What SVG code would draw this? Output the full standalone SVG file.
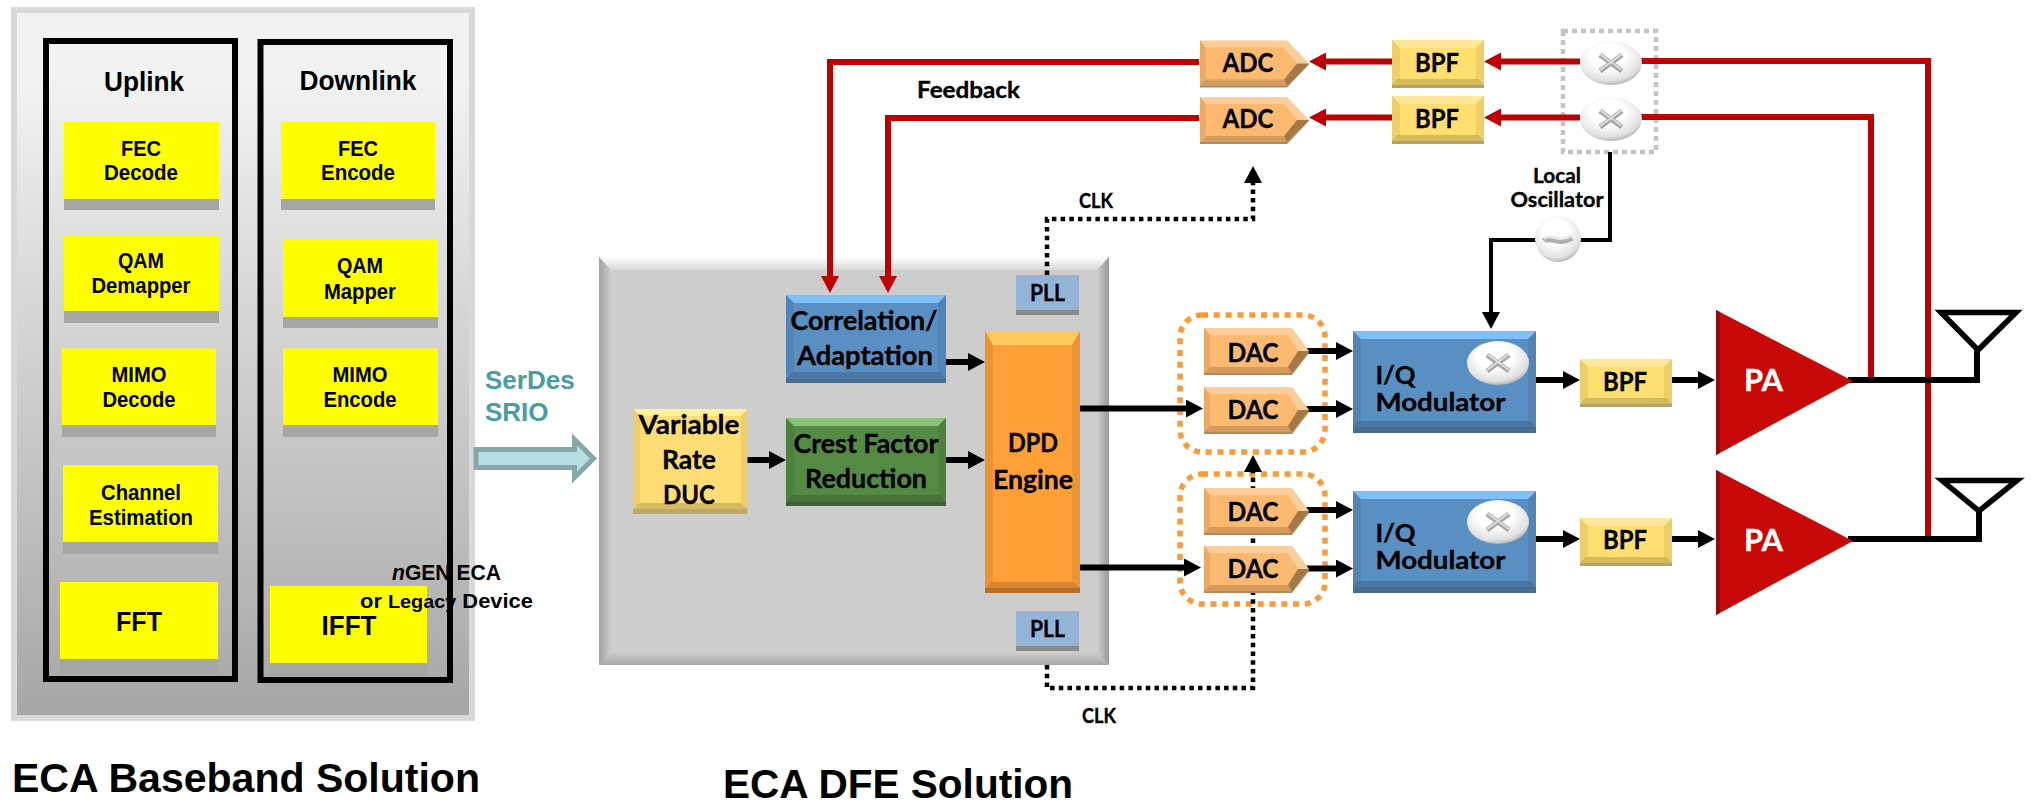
<svg xmlns="http://www.w3.org/2000/svg" width="2031" height="801" viewBox="0 0 2031 801">
<style>
.a{font-family:"Liberation Sans",Arial,sans-serif;font-weight:700;fill:#000;text-anchor:middle}
.c{font-family:Lato,"Liberation Sans",sans-serif;font-weight:700;fill:#000;text-anchor:middle;stroke:#000;stroke-width:.35}
.y{fill:#ffff00}.s{fill:#a6a6a6}
.fr{fill:none;stroke:#000;stroke-width:6}
.k{fill:none;stroke:#000;stroke-width:6}
.k4{fill:none;stroke:#000;stroke-width:4}
.r{fill:none;stroke:#c00000;stroke-width:6}
.d{fill:none;stroke:#000;stroke-width:4.5;stroke-dasharray:4.5 4.2}
.l{fill:#fff;fill-opacity:.3}.m{fill:#000;fill-opacity:.07}.b{fill:#000;fill-opacity:.16}
.ant{fill:none;stroke:#000;stroke-width:5.5}
</style>
<defs>
<linearGradient id="bg" x1="0" y1="0" x2="0" y2="1"><stop offset=".1" stop-color="#f2f2f2"/><stop offset="1" stop-color="#a6a6a6"/></linearGradient>
<radialGradient id="mix" cx=".45" cy=".35" r=".7"><stop offset=".4" stop-color="#ffffff"/><stop offset=".8" stop-color="#e0e0e0"/><stop offset="1" stop-color="#a0a0a0"/></radialGradient>
<linearGradient id="pl" x1="0" y1="0" x2="1" y2="0"><stop offset="0" stop-color="#a0a0a0"/><stop offset="1" stop-color="#cdcdcd"/></linearGradient>
<linearGradient id="pr" x1="0" y1="0" x2="1" y2="0"><stop offset="0" stop-color="#cdcdcd"/><stop offset="1" stop-color="#999"/></linearGradient>
<linearGradient id="pt" x1="0" y1="0" x2="0" y2="1"><stop offset="0" stop-color="#fff"/><stop offset="1" stop-color="#d8d8d8"/></linearGradient>
<linearGradient id="pb" x1="0" y1="0" x2="0" y2="1"><stop offset="0" stop-color="#cdcdcd"/><stop offset="1" stop-color="#a8a8a8"/></linearGradient>
<marker id="ab" markerUnits="userSpaceOnUse" markerWidth="18" markerHeight="18" refX="1" refY="9" orient="auto"><path d="M0 0L17 9L0 18Z" fill="#000"/></marker>
<marker id="ar" markerUnits="userSpaceOnUse" markerWidth="18" markerHeight="18" refX="1" refY="9" orient="auto"><path d="M0 0L17 9L0 18Z" fill="#c00000"/></marker>
<g id="bpf"><rect x="0" y="2" width="92" height="46" fill="#b5a26a"/><rect width="92" height="45" fill="#ffdf70"/><path class="l" d="M0 0H92L84 8H8Z"/><path class="b" d="M0 45H92L86 39H6Z"/><path class="m" d="M0 0L8 8V39L0 45ZM92 0L84 8V39L92 45Z"/></g>
<g id="dac"><path d="M0 2H88L105 25L88 47H0Z" fill="#b08a58"/><path d="M0 0H88L105 23L88 45H0Z" fill="#fdb96f"/><path class="l" d="M0 0H88L84 7H6ZM88 0L105 23L94 23L84 7Z"/><path class="b" d="M0 45H88L84 39H6Z"/><path fill="#000" fill-opacity=".35" d="M88 45L105 23H94L84 39Z"/><path class="m" d="M0 0L6 7V39L0 45Z"/></g>
<g id="adc"><path d="M0 2H87L109 24L87 47H0Z" fill="#b08a58"/><path d="M0 0H87L109 23L87 45H0Z" fill="#fdb96f"/><path class="l" d="M0 0H87L84 7H6ZM87 0L109 23L97 23L84 7Z"/><path class="b" d="M0 45H87L84 39H6Z"/><path fill="#000" fill-opacity=".35" d="M87 45L109 23H97L84 39Z"/><path class="m" d="M0 0L6 7V39L0 45Z"/></g>
<g id="iqb"><rect width="183" height="102" fill="#5a8fc4"/><path fill="#7fc0fb" d="M0 0H183L175 8H8Z"/><path fill="#476d93" d="M0 102H183V96H0Z"/><path class="b" d="M0 96H183L177 90H6Z"/><path class="m" d="M0 0L8 8V90L0 96ZM183 0L175 8V90L183 96Z"/></g>
<g id="mixer"><ellipse cx="0" cy="0" rx="31" ry="22" fill="url(#mix)"/><path d="M-11 -8L11 8M-11 8L11 -8" fill="none" stroke="#a6a6a6" stroke-width="5"/><path d="M-11 -9L11 7M-11 7L11 -9" fill="none" stroke="#dedede" stroke-width="2"/></g>
<g id="pa"><path d="M0 0L137 71L0 145Z" fill="#c90808"/><path d="M0 0L4 2V143L0 145Z" fill="#8c1010"/></g>
</defs>

<g id="baseband-panel">
<rect x="14" y="10" width="458" height="708" fill="url(#bg)" stroke="#d9d9d9" stroke-width="6"/>
<rect class="fr" x="46" y="41" width="189" height="638"/>
<rect class="fr" x="260.500" y="42" width="189.500" height="638"/>
<text class="a" x="144" y="91" font-size="27" textLength="80" lengthAdjust="spacingAndGlyphs">Uplink</text>
<text class="a" x="358" y="90" font-size="27" textLength="117" lengthAdjust="spacingAndGlyphs">Downlink</text>
</g>
<g id="fec-decode"><rect class="s" x="64" y="199" width="155" height="11"/><rect class="y" x="64" y="122" width="155" height="77"/><text class="a" x="141" y="156" font-size="21.500" textLength="40" lengthAdjust="spacingAndGlyphs">FEC</text><text class="a" x="141" y="180" font-size="21.500" textLength="74" lengthAdjust="spacingAndGlyphs">Decode</text></g>
<g id="qam-demapper"><rect class="s" x="64" y="311" width="155" height="12"/><rect class="y" x="64" y="235" width="155" height="76"/><text class="a" x="141" y="268" font-size="21.500" textLength="46" lengthAdjust="spacingAndGlyphs">QAM</text><text class="a" x="141" y="293" font-size="21.500" textLength="99" lengthAdjust="spacingAndGlyphs">Demapper</text></g>
<g id="mimo-decode"><rect class="s" x="62" y="425" width="154" height="12"/><rect class="y" x="62" y="348.500" width="154" height="76.500"/><text class="a" x="139" y="382" font-size="21.500" textLength="55" lengthAdjust="spacingAndGlyphs">MIMO</text><text class="a" x="139" y="407" font-size="21.500" textLength="73" lengthAdjust="spacingAndGlyphs">Decode</text></g>
<g id="channel-estimation"><rect class="s" x="63" y="542" width="155" height="12"/><rect class="y" x="63" y="465" width="155" height="77"/><text class="a" x="141" y="500" font-size="21.500" textLength="80" lengthAdjust="spacingAndGlyphs">Channel</text><text class="a" x="141" y="525" font-size="21.500" textLength="104" lengthAdjust="spacingAndGlyphs">Estimation</text></g>
<g id="fft"><rect class="s" x="60" y="659" width="158" height="15"/><rect class="y" x="60" y="582" width="158" height="77"/><text class="a" x="139" y="631" font-size="27" textLength="46" lengthAdjust="spacingAndGlyphs">FFT</text></g>
<g id="fec-encode"><rect class="s" x="281" y="199" width="154" height="11"/><rect class="y" x="281" y="122" width="154" height="77"/><text class="a" x="358" y="156" font-size="21.500" textLength="40" lengthAdjust="spacingAndGlyphs">FEC</text><text class="a" x="358" y="180" font-size="21.500" textLength="74" lengthAdjust="spacingAndGlyphs">Encode</text></g>
<g id="qam-mapper"><rect class="s" x="283" y="317" width="155" height="11"/><rect class="y" x="283" y="240" width="155" height="77"/><text class="a" x="360" y="273" font-size="21.500" textLength="46" lengthAdjust="spacingAndGlyphs">QAM</text><text class="a" x="360" y="299" font-size="21.500" textLength="72" lengthAdjust="spacingAndGlyphs">Mapper</text></g>
<g id="mimo-encode"><rect class="s" x="283" y="425" width="155" height="12"/><rect class="y" x="283" y="348.500" width="155" height="76.500"/><text class="a" x="360" y="382" font-size="21.500" textLength="55" lengthAdjust="spacingAndGlyphs">MIMO</text><text class="a" x="360" y="407" font-size="21.500" textLength="73" lengthAdjust="spacingAndGlyphs">Encode</text></g>
<g id="ifft"><rect class="s" x="270" y="663" width="157" height="14"/><rect class="y" x="270" y="586" width="157" height="77"/><text class="a" x="349" y="635" font-size="27" textLength="55" lengthAdjust="spacingAndGlyphs">IFFT</text></g>
<g id="ngen-label">
<text class="a" x="446.500" y="579.500" font-size="22.500" textLength="109" lengthAdjust="spacingAndGlyphs"><tspan font-style="italic">n</tspan>GEN ECA</text>
<text class="a" x="446.500" y="608" font-size="21" textLength="173" lengthAdjust="spacingAndGlyphs">or <tspan font-size="19">Legacy</tspan> Device</text>
</g>
<g id="serdes">
<text x="485" y="389" font-size="26" font-weight="700" font-family="Liberation Sans, sans-serif" fill="#4a9ca6">SerDes</text>
<text x="485" y="421" font-size="26" font-weight="700" font-family="Liberation Sans, sans-serif" fill="#4a9ca6">SRIO</text>
<path d="M476 449.500H574.500V439.500L593.500 458.500L574.500 477.500V467.500H476Z" fill="#b7dee2" stroke="#88a6a8" stroke-width="5"/>
</g>

<g id="dfe-panel">
<rect x="599" y="257" width="510" height="408" fill="#cdcdcd"/>
<path d="M599 257H1109L1097 270H611Z" fill="url(#pt)"/>
<path d="M599 257L611 270V652L599 665Z" fill="url(#pl)"/>
<path d="M1109 257L1097 270V652L1109 665Z" fill="url(#pr)"/>
<path d="M599 665H1109L1097 652H611Z" fill="url(#pb)"/>
</g>
<g id="dac-group-1"><rect x="1180" y="315" width="145" height="137" rx="22" fill="none" stroke="#ff9933" stroke-width="5.500" stroke-dasharray="6 5.800"/></g>
<g id="dac-group-2"><rect x="1180" y="474" width="145" height="130" rx="22" fill="none" stroke="#ff9933" stroke-width="5.500" stroke-dasharray="6 5.800"/></g>
<g id="mixer-group"><rect x="1563" y="31" width="93" height="121" fill="none" stroke="#c4c4c4" stroke-width="4.500" stroke-dasharray="5 4"/></g>

<g id="connectors">
<path class="r" d="M1199 62H830V277" marker-end="url(#ar)"/>
<path class="r" d="M1199 118H888V277" marker-end="url(#ar)"/>
<path class="r" d="M1392 61.500H1325" marker-end="url(#ar)"/>
<path class="r" d="M1392 117.500H1325" marker-end="url(#ar)"/>
<path class="r" d="M1580 61.500H1500" marker-end="url(#ar)"/>
<path class="r" d="M1580 117.500H1500" marker-end="url(#ar)"/>
<path class="r" d="M1636 61H1928V538"/>
<path class="r" d="M1636 117H1871V378"/>
<path class="k" d="M946 362H969" marker-end="url(#ab)"/>
<path class="k" d="M946 460H969" marker-end="url(#ab)"/>
<path class="k" d="M747 460H770" marker-end="url(#ab)"/>
<path class="k" d="M1080 408.500H1187" marker-end="url(#ab)"/>
<path class="k" d="M1080 567.500H1185" marker-end="url(#ab)"/>
<path class="k" d="M1305 351H1337" marker-end="url(#ab)"/>
<path class="k" d="M1305 409H1337" marker-end="url(#ab)"/>
<path class="k" d="M1305 510H1337" marker-end="url(#ab)"/>
<path class="k" d="M1305 568.500H1337" marker-end="url(#ab)"/>
<path class="k" d="M1536 380H1564" marker-end="url(#ab)"/>
<path class="k" d="M1672 380H1699" marker-end="url(#ab)"/>
<path class="k" d="M1536 539H1564" marker-end="url(#ab)"/>
<path class="k" d="M1672 539H1699" marker-end="url(#ab)"/>
<path class="k" d="M1848 380H1977V350"/>
<path class="k" d="M1848 539H1979V510"/>
<path class="k4" d="M1610 152V240H1491V313" marker-end="url(#ab)"/>
<path class="d" d="M1047 275V219H1253V182" marker-end="url(#ab)"/>
<path class="d" d="M1047 665V688H1253V471" marker-end="url(#ab)"/>
</g>

<g id="correlation"><rect x="786" y="295" width="160" height="88" fill="#5a8fc4"/><path fill="#7fc0fb" d="M786 295H946L938 303H794Z"/><path fill="#476d93" d="M786 383H946V379H786Z"/><path class="b" d="M786 379H946L939 372H793Z"/><path class="m" d="M786 295L794 303V372L786 379ZM946 295L938 303V372L946 379Z"/><text class="c" x="864" y="330" font-size="27" textLength="147" lengthAdjust="spacingAndGlyphs">Correlation/</text><text class="c" x="865" y="365" font-size="27" textLength="136" lengthAdjust="spacingAndGlyphs">Adaptation</text></g>
<g id="crest-factor"><rect x="786" y="418" width="160" height="88" fill="#558a45"/><path fill="#8ac27a" d="M786 418H946L938 426H794Z"/><path fill="#3f6135" d="M786 506H946V502H786Z"/><path class="b" d="M786 502H946L939 495H793Z"/><path class="m" d="M786 418L794 426V495L786 502ZM946 418L938 426V495L946 502Z"/><text class="c" x="866" y="453" font-size="27" textLength="145" lengthAdjust="spacingAndGlyphs">Crest Factor</text><text class="c" x="866" y="488" font-size="27" textLength="122" lengthAdjust="spacingAndGlyphs">Reduction</text></g>
<g id="variable-rate-duc"><rect x="633" y="409" width="114.500" height="105" fill="#ffdd75"/><path fill="#fff09a" d="M633 409H747.500L741 416H640Z"/><path fill="#bfa76a" d="M633 514H747.500V509H633Z"/><path class="b" d="M633 509H747.500L741 503H640Z"/><path class="m" d="M633 409L640 416V503L633 509ZM747.500 409L741 416V503L747.500 509Z"/><text class="c" x="689" y="434" font-size="27" textLength="101" lengthAdjust="spacingAndGlyphs">Variable</text><text class="c" x="689" y="469" font-size="27" textLength="54" lengthAdjust="spacingAndGlyphs">Rate</text><text class="c" x="689" y="504" font-size="27" textLength="52" lengthAdjust="spacingAndGlyphs">DUC</text></g>
<g id="dpd-engine"><rect x="985" y="331" width="95" height="262" fill="#ff9f35"/><path fill="#ffc95e" d="M985 331H1080L1072 345H993Z"/><path fill="#b86e28" d="M985 593H1080V588H985Z"/><path class="b" d="M985 588H1080L1073 582H992Z"/><path class="m" d="M985 331L993 345V582L985 588ZM1080 331L1072 345V582L1080 588Z"/><text class="c" x="1033" y="452" font-size="27" textLength="50" lengthAdjust="spacingAndGlyphs">DPD</text><text class="c" x="1033" y="489" font-size="27" textLength="80" lengthAdjust="spacingAndGlyphs">Engine</text></g>
<g id="pll-top"><rect x="1016" y="310" width="63" height="5" fill="#8a8a8a"/><rect x="1016" y="275" width="63" height="35" fill="#95b3d7"/><text class="c" x="1047.500" y="301" font-size="23" textLength="35" lengthAdjust="spacingAndGlyphs">PLL</text></g>
<g id="pll-bottom"><rect x="1016" y="646" width="63" height="5" fill="#8a8a8a"/><rect x="1016" y="611" width="63" height="35" fill="#95b3d7"/><text class="c" x="1047.500" y="637" font-size="23" textLength="35" lengthAdjust="spacingAndGlyphs">PLL</text></g>

<g id="adc-1"><use href="#adc" x="1200" y="40.500"/><text class="c" x="1248" y="72" font-size="26" textLength="51" lengthAdjust="spacingAndGlyphs">ADC</text></g>
<g id="adc-2"><use href="#adc" x="1200" y="97"/><text class="c" x="1248" y="128" font-size="26" textLength="51" lengthAdjust="spacingAndGlyphs">ADC</text></g>
<g id="bpf-fb-1"><use href="#bpf" x="1392" y="40"/><text class="c" x="1437" y="72" font-size="26" textLength="44" lengthAdjust="spacingAndGlyphs">BPF</text></g>
<g id="bpf-fb-2"><use href="#bpf" x="1392" y="96"/><text class="c" x="1437" y="128" font-size="26" textLength="44" lengthAdjust="spacingAndGlyphs">BPF</text></g>
<g id="mixer-1"><use href="#mixer" x="1611" y="63"/></g>
<g id="mixer-2"><use href="#mixer" x="1611" y="119"/></g>
<g id="oscillator"><circle cx="1558" cy="239" r="23" fill="url(#mix)"/><path d="M1544 241C1550 235 1558 246 1572 238" fill="none" stroke="#b0b0b0" stroke-width="6"/><path d="M1544 239C1550 233 1558 244 1572 236" fill="none" stroke="#e8e8e8" stroke-width="2"/></g>
<g id="dac-1"><use href="#dac" x="1204" y="328"/><text class="c" x="1253" y="362" font-size="26" textLength="51" lengthAdjust="spacingAndGlyphs">DAC</text></g>
<g id="dac-2"><use href="#dac" x="1204" y="387"/><text class="c" x="1253" y="419" font-size="26" textLength="51" lengthAdjust="spacingAndGlyphs">DAC</text></g>
<g id="dac-3"><use href="#dac" x="1204" y="488"/><text class="c" x="1253" y="521" font-size="26" textLength="51" lengthAdjust="spacingAndGlyphs">DAC</text></g>
<g id="dac-4"><use href="#dac" x="1204" y="546"/><text class="c" x="1253" y="578" font-size="26" textLength="51" lengthAdjust="spacingAndGlyphs">DAC</text></g>
<g id="iq-1"><use href="#iqb" x="1353" y="331"/><use href="#mixer" x="1498" y="363"/><text class="c" style="text-anchor:start" x="1375.500" y="384" font-size="25" textLength="40" lengthAdjust="spacingAndGlyphs">I/Q</text><text class="c" style="text-anchor:start" x="1375.500" y="411" font-size="25" textLength="130" lengthAdjust="spacingAndGlyphs">Modulator</text></g>
<g id="iq-2"><use href="#iqb" x="1353" y="491"/><use href="#mixer" x="1498" y="522"/><text class="c" style="text-anchor:start" x="1375.500" y="542" font-size="25" textLength="40" lengthAdjust="spacingAndGlyphs">I/Q</text><text class="c" style="text-anchor:start" x="1375.500" y="569" font-size="25" textLength="130" lengthAdjust="spacingAndGlyphs">Modulator</text></g>
<g id="bpf-1"><use href="#bpf" x="1580" y="359"/><text class="c" x="1625" y="391" font-size="26" textLength="44" lengthAdjust="spacingAndGlyphs">BPF</text></g>
<g id="bpf-2"><use href="#bpf" x="1580" y="518"/><text class="c" x="1625" y="549" font-size="26" textLength="44" lengthAdjust="spacingAndGlyphs">BPF</text></g>
<g id="pa-1"><use href="#pa" x="1716" y="310"/><text class="c" style="fill:#fff;stroke:#fff" x="1763.500" y="391" font-size="31" textLength="39" lengthAdjust="spacingAndGlyphs">PA</text></g>
<g id="pa-2"><use href="#pa" x="1716" y="470"/><text class="c" style="fill:#fff;stroke:#fff" x="1763.500" y="551" font-size="31" textLength="39" lengthAdjust="spacingAndGlyphs">PA</text></g>
<g id="antenna-1"><path class="ant" d="M1941 312.500H2016L1978 350Z"/></g>
<g id="antenna-2"><path class="ant" d="M1942 480.500H2017L1979 511Z"/></g>

<g id="labels">
<text class="c" x="968.500" y="98" font-size="22" textLength="103" lengthAdjust="spacingAndGlyphs">Feedback</text>
<text class="c" x="1096" y="208" font-size="20" textLength="34" lengthAdjust="spacingAndGlyphs">CLK</text>
<text class="c" x="1099" y="723" font-size="20" textLength="34" lengthAdjust="spacingAndGlyphs">CLK</text>
<text class="c" x="1557" y="183" font-size="21" textLength="48" lengthAdjust="spacingAndGlyphs">Local</text>
<text class="c" x="1557" y="207" font-size="21" textLength="93" lengthAdjust="spacingAndGlyphs">Oscillator</text>
<text class="a" x="246" y="792" font-size="41" textLength="468" lengthAdjust="spacingAndGlyphs">ECA Baseband Solution</text>
<text class="a" x="898" y="798" font-size="41" textLength="350" lengthAdjust="spacingAndGlyphs">ECA DFE Solution</text>
</g>
</svg>
